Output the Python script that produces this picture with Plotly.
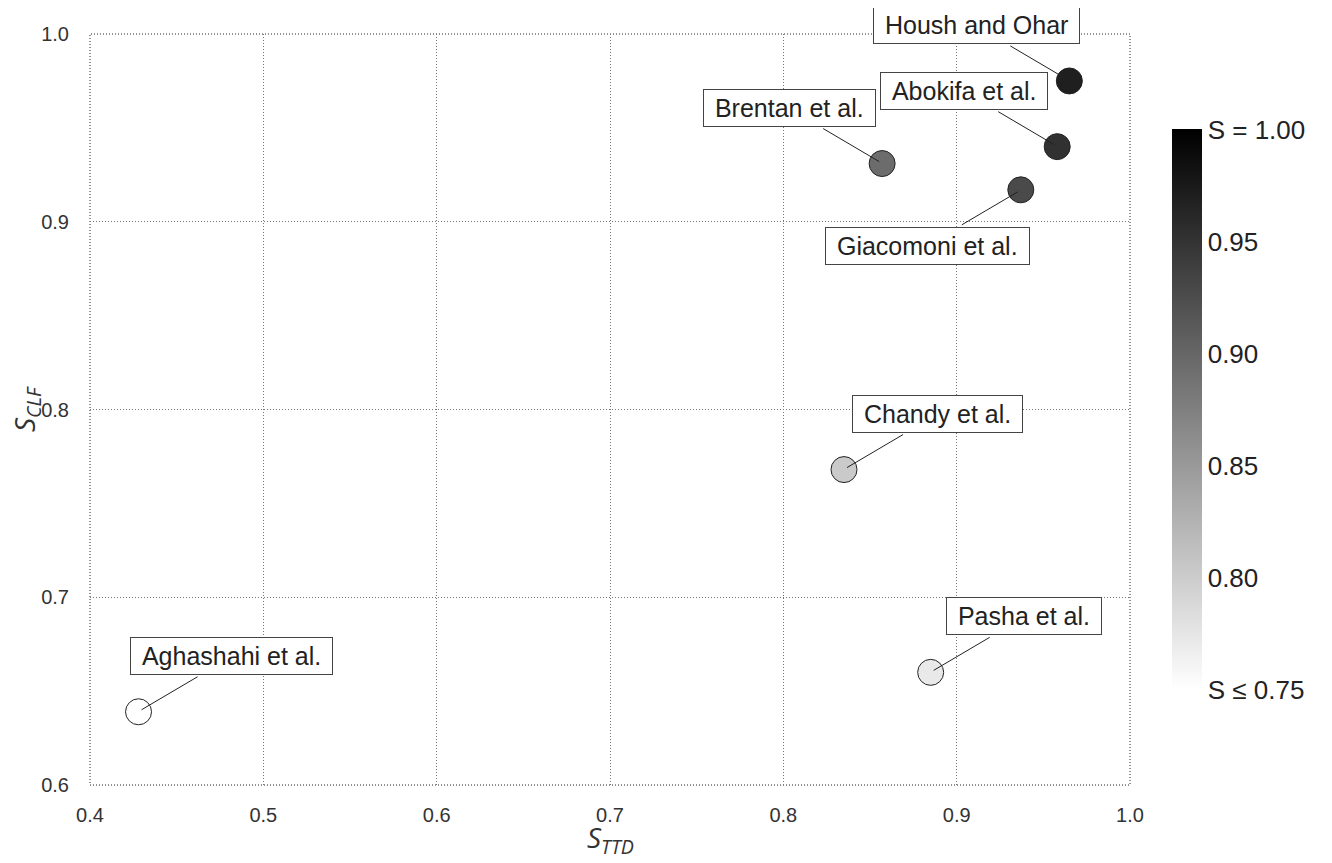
import plotly.graph_objects as go

# ---- data ----
names = ["Housh and Ohar", "Abokifa et al.", "Brentan et al.", "Giacomoni et al.",
         "Chandy et al.", "Pasha et al.", "Aghashahi et al."]
s_ttd = [0.965, 0.958, 0.857, 0.937, 0.835, 0.885, 0.428]
s_clf = [0.975, 0.940, 0.931, 0.917, 0.768, 0.660, 0.639]
s_all = [0.970, 0.952, 0.894, 0.927, 0.802, 0.772, 0.534]

# label placement (direction of offset from the point): x sign, y sign (up = +1)
label_dx = [-1, -1, -1, -1, 1, 1, 1]
label_dy = [1, 1, 1, -1, 1, 1, 1]

cbar_vals = [0.75, 0.80, 0.85, 0.90, 0.95, 1.00]
cbar_text = ["S ≤ 0.75", "0.80", "0.85", "0.90", "0.95", "S = 1.00"]
x_ticks = [0.4, 0.5, 0.6, 0.7, 0.8, 0.9, 1.0]
y_ticks = [0.6, 0.7, 0.8, 0.9, 1.0]
x_title = "<i>S<sub>TTD</sub></i>"
y_title = "<i>S<sub>CLF</sub></i>"

# ---- style ----
BOX_DX, BOX_DY = 93, 56
LINE_START_DX, LINE_START_DY = 59, 35
LINE_END_DX, LINE_END_DY = 3, 2
TICK_FONT = dict(family="Liberation Sans Narrow, Liberation Sans, Arial, sans-serif", size=20, color="#333333")
TITLE_FONT = dict(family="Open Sans, DejaVu Sans, sans-serif", size=28, color="#333333")
DOTS = "1px,2px"

fig = go.Figure()
fig.add_trace(go.Scatter(
    x=s_ttd, y=s_clf, mode="markers", text=names,
    marker=dict(size=26, color=s_all, cmin=0.75, cmax=1.0,
                colorscale=[[0, "#ffffff"], [1, "#000000"]],
                line=dict(color="#222222", width=1),
                showscale=True,
                colorbar=dict(
                    tickvals=cbar_vals, ticktext=cbar_text, ticks="",
                    thickness=30, len=560, lenmode="pixels",
                    x=1164 / 1332, xref="container", xanchor="left", xpad=0,
                    y=0.5, yanchor="middle", ypad=0, outlinewidth=0,
                    tickfont=dict(family="Liberation Sans, Arial, sans-serif", size=26, color="#222222"),
                )),
    showlegend=False, hoverinfo="text",
))

shapes = []
annotations = []
for n, x, y, sx, sy in zip(names, s_ttd, s_clf, label_dx, label_dy):
    shapes.append(dict(
        type="line", xref="x", yref="y", xsizemode="pixel", ysizemode="pixel",
        xanchor=x, yanchor=y,
        x0=sx * LINE_START_DX, y0=sy * LINE_START_DY,
        x1=sx * LINE_END_DX, y1=sy * LINE_END_DY,
        line=dict(color="#222222", width=1),
    ))
    annotations.append(dict(
        x=x, y=y, xref="x", yref="y", showarrow=False,
        text="\u00a0" + n + "\u00a0",
        xshift=sx * BOX_DX, yshift=sy * BOX_DY,
        font=dict(family="Liberation Sans, Arial, sans-serif", size=25, color="#222222"),
        bgcolor="#ffffff", bordercolor="#444444", borderwidth=1, borderpad=4,
    ))

# axis titles
annotations.append(dict(text=x_title, xref="paper", yref="paper", x=0.5, y=-0.072,
                        xanchor="center", yanchor="middle", showarrow=False, font=TITLE_FONT))
annotations.append(dict(text=y_title, xref="paper", yref="paper", x=-0.062, y=0.5,
                        xanchor="center", yanchor="middle", showarrow=False, textangle=-90,
                        font=TITLE_FONT))

# dotted plot frame
shapes.append(dict(type="rect", xref="paper", yref="paper", x0=0, y0=0, x1=1, y1=1,
                   line=dict(color="#222222", width=1, dash=DOTS), layer="below"))

fig.update_layout(
    width=1332, height=863,
    margin=dict(l=82, r=210, t=26, b=86, autoexpand=False),
    plot_bgcolor="#ffffff", paper_bgcolor="#ffffff",
    shapes=shapes, annotations=annotations,
    xaxis=dict(range=[0.4, 1.0], tickvals=x_ticks, ticktext=[f"{v:.1f}" for v in x_ticks],
               showgrid=True, gridcolor="#777777", griddash=DOTS, gridwidth=1,
               zeroline=False, showline=False, ticks="", tickfont=TICK_FONT,
               ticklabelstandoff=16, automargin=False),
    yaxis=dict(range=[0.6, 1.0], tickvals=y_ticks, ticktext=[f"{v:.1f}" for v in y_ticks],
               showgrid=True, gridcolor="#777777", griddash=DOTS, gridwidth=1,
               zeroline=False, showline=False, ticks="", tickfont=TICK_FONT,
               ticklabelstandoff=20, automargin=False),
)

fig.write_html("out.html")
